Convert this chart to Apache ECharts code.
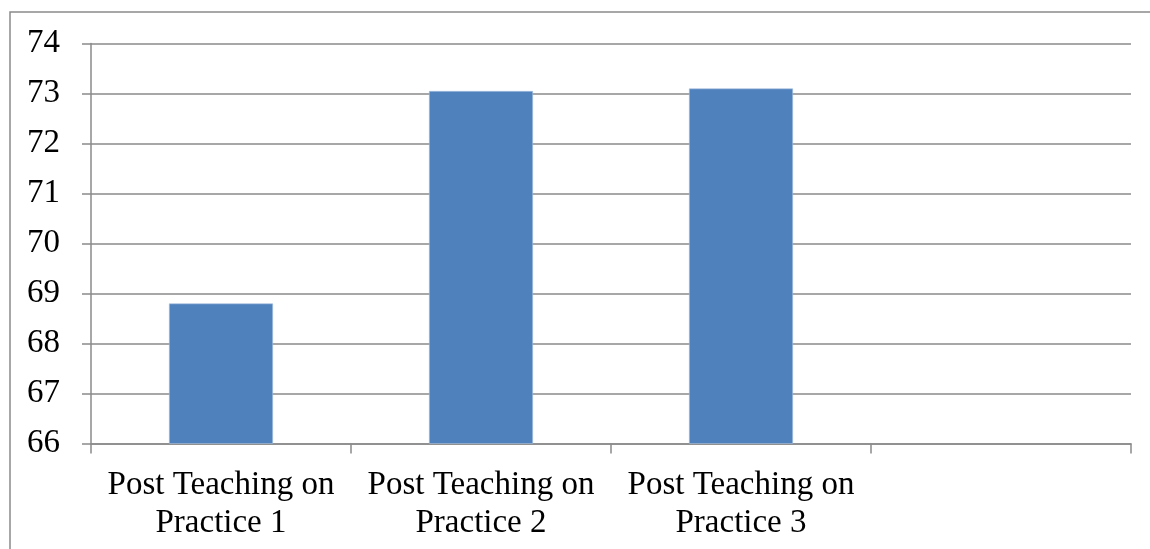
<!DOCTYPE html>
<html>
<head>
<meta charset="utf-8">
<script src="https://cdn.jsdelivr.net/npm/echarts@6/dist/echarts.min.js"></script>
<style>
  html, body { margin: 0; padding: 0; background: #ffffff; }
  #chart { width: 1150px; height: 549px; }
</style>
</head>
<body>
<div id="chart"></div>
<script>
// Scores after each teaching-practice round
const categories = [
  'Post Teaching on\nPractice 1',
  'Post Teaching on\nPractice 2',
  'Post Teaching on\nPractice 3',
  ''
];
const scores = [68.8, 73.05, 73.1, null];
const yMin = 66;
const yMax = 74;
const yStep = 1;

const gray = '#8a8a8a';
const font = '"Liberation Serif", "DejaVu Serif", serif';

const chart = echarts.init(document.getElementById('chart'), null, { renderer: 'canvas' });
chart.setOption({
  animation: false,
  backgroundColor: '#ffffff',
  graphic: [{
    type: 'rect',
    shape: { x: 10, y: 12, width: 1160, height: 560 },
    style: { fill: 'none', stroke: gray, lineWidth: 1.5 },
    silent: true
  }],
  grid: { left: 91, right: 19, top: 43.5, bottom: 105.5, containLabel: false },
  xAxis: {
    type: 'category',
    data: categories,
    boundaryGap: true,
    axisLine: { show: true, lineStyle: { color: gray, width: 1.5 } },
    axisTick: { show: true, length: 10, alignWithLabel: false, lineStyle: { color: gray, width: 1.5 } },
    axisLabel: {
      interval: 0,
      margin: 23,
      color: '#000000',
      fontFamily: font,
      fontSize: 33,
      lineHeight: 38,
      align: 'center'
    },
    splitLine: { show: false }
  },
  yAxis: {
    type: 'value',
    min: yMin,
    max: yMax,
    interval: yStep,
    axisLine: { show: true, lineStyle: { color: gray, width: 1.5 } },
    axisTick: { show: true, length: 9, inside: false, lineStyle: { color: gray, width: 1.5 } },
    axisLabel: {
      margin: 31,
      color: '#000000',
      fontFamily: font,
      fontSize: 33
    },
    splitLine: { show: true, lineStyle: { color: gray, width: 1.5 } }
  },
  series: [{
    type: 'bar',
    data: scores,
    barWidth: '40%',
    itemStyle: { color: '#4f81bd', borderColor: '#a9c1e0', borderWidth: 0.6 }
  }]
});
</script>
</body>
</html>
